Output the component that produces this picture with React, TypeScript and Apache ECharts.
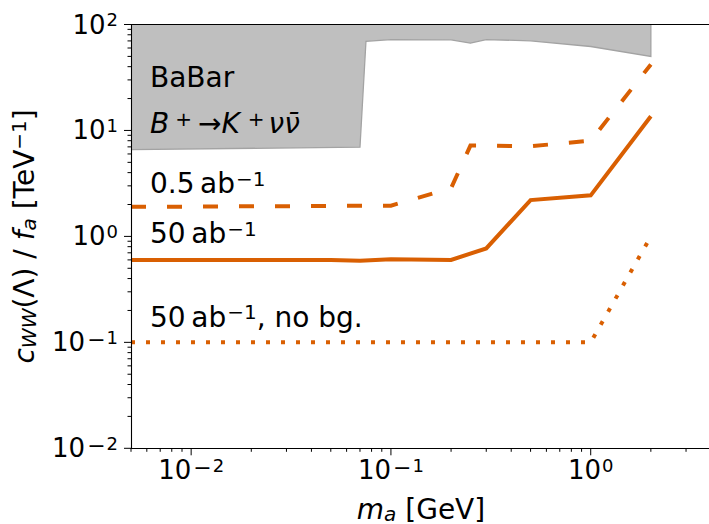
import React, { useEffect, useRef } from 'react';
import * as echarts from 'echarts';

const FONT = "'DejaVu Sans', sans-serif";
const ORANGE = '#d95f02';

const X_MIN = 0.005;
const X_MAX = 4;
const Y_MIN = 0.01;
const Y_MAX = 100;

// BaBar B+ -> K+ nu nubar excluded region (lower boundary)
const babarX = [0.005, 0.07, 0.075, 0.1, 0.2, 0.25, 0.3, 0.5, 1, 2];
const babarY = [6.6, 6.95, 69.5, 72, 71.7, 66.6, 72, 70.2, 62, 50];

// 0.5 ab^-1 (dashed)
const dashX = [0.005, 0.1, 0.2, 0.25, 0.3, 0.5, 1, 2];
const dashY = [1.9, 1.95, 2.85, 7.2, 7.2, 7.1, 8.0, 42];

// 50 ab^-1 (solid)
const solidX = [0.005, 0.05, 0.07, 0.1, 0.2, 0.3, 0.5, 1, 2];
const solidY = [0.6, 0.6, 0.59, 0.61, 0.6, 0.77, 2.2, 2.44, 13.6];

// 50 ab^-1, no background (dotted)
const dotX = [0.005, 1, 2];
const dotY = [0.1, 0.1, 1.0];

// tick values
const xMajorTicks = [0.01, 0.1, 1];
const xMinorTicks = [0.005, 0.006, 0.007, 0.008, 0.009, 0.02, 0.03, 0.04, 0.05, 0.06, 0.07, 0.08, 0.09, 0.2, 0.3, 0.4, 0.5, 0.6, 0.7, 0.8, 0.9, 2, 3];
const yMajorTicks = [0.01, 0.1, 1, 10, 100];
const yMinorTicks = [0.02, 0.03, 0.04, 0.05, 0.06, 0.07, 0.08, 0.09, 0.2, 0.3, 0.4, 0.5, 0.6, 0.7, 0.8, 0.9, 2, 3, 4, 5, 6, 7, 8, 9, 20, 30, 40, 50, 60, 70, 80, 90];

const fmtPow = (v: number) => {
  const e = Math.log10(v);
  const r = Math.round(e);
  if (Math.abs(e - r) > 1e-6) return '';
  return r < 0 ? `{b|10}{m|\u2212}{s|${-r}}` : `{b|10}{s|${r}}`;
};

const tickRich = {
  b: { fontFamily: FONT, fontSize: 26, lineHeight: 28, color: '#000' },
  m: { fontFamily: FONT, fontSize: 22, lineHeight: 15, verticalAlign: 'top', color: '#000', padding: [0, 0, 0, 2] },
  s: { fontFamily: FONT, fontSize: 18, lineHeight: 15, verticalAlign: 'top', color: '#000', padding: [0, 0, 0, 1] },
};

const nameRich = {
  i: { fontFamily: FONT, fontStyle: 'italic', fontSize: 28, lineHeight: 30, color: '#000' },
  n: { fontFamily: FONT, fontSize: 28, lineHeight: 30, color: '#000' },
  sub: { fontFamily: FONT, fontStyle: 'italic', fontSize: 20, lineHeight: 16, verticalAlign: 'bottom', color: '#000' },
  sup: { fontFamily: FONT, fontSize: 20, lineHeight: 17, verticalAlign: 'top', color: '#000' },
};

const labelRich = {
  b: { fontFamily: FONT, fontSize: 28, lineHeight: 30, color: '#000' },
  i: { fontFamily: FONT, fontStyle: 'italic', fontSize: 28, lineHeight: 30, color: '#000' },
  s: { fontFamily: FONT, fontSize: 20, lineHeight: 17, verticalAlign: 'top', color: '#000', padding: [0, 0, 0, 1] },
  s1: { fontFamily: FONT, fontSize: 20, lineHeight: 17, verticalAlign: 'top', color: '#000', padding: [0, 6, 0, 6] },
  s2: { fontFamily: FONT, fontSize: 20, lineHeight: 17, verticalAlign: 'top', color: '#000', padding: [0, 4, 0, 8] },
  a: { fontFamily: FONT, fontSize: 28, lineHeight: 30, color: '#000' },
};

function tickSeries(data: number[][], vertical: boolean) {
  return {
    type: 'custom',
    coordinateSystem: 'cartesian2d',
    clip: false,
    silent: true,
    z: 20,
    data,
    renderItem: (params: any, api: any) => {
      const p = api.coord([api.value(0), api.value(1)]);
      const len = api.value(2);
      return {
        type: 'line',
        shape: vertical
          ? { x1: p[0], y1: p[1], x2: p[0], y2: p[1] + len }
          : { x1: p[0] - len, y1: p[1], x2: p[0], y2: p[1] },
        style: { stroke: '#000', lineWidth: 1 },
      };
    },
  };
}

export default function App() {
  const ref = useRef<HTMLDivElement>(null);

  useEffect(() => {
    document.body.style.margin = '0';
    if (!ref.current) return;
    const chart = echarts.init(ref.current, null, { renderer: 'svg' });

    const xTickData = [
      ...xMajorTicks.map((v) => [v, Y_MIN, 7]),
      ...xMinorTicks.map((v) => [v, Y_MIN, 3.5]),
    ];
    const yTickData = [
      ...yMajorTicks.map((v) => [X_MIN, v, 7]),
      ...yMinorTicks.map((v) => [X_MIN, v, 3.5]),
    ];

    const axisLine = { show: true, lineStyle: { color: '#000', width: 1.1 } };

    chart.setOption({
      animation: false,
      backgroundColor: '#fff',
      grid: { left: 131, top: 24.5, width: 580, height: 423.8, outerBoundsMode: 'none', containLabel: false },
      xAxis: [
        {
          type: 'log',
          min: X_MIN,
          max: X_MAX,
          position: 'bottom',
          z: 10,
          axisLine,
          axisTick: { show: false },
          splitLine: { show: false },
          minorTick: { show: false },
          axisLabel: { formatter: fmtPow, rich: tickRich, margin: 8, showMinLabel: true, showMaxLabel: true },
          name: '{i|m}{sub|a}{n| [GeV]}',
          nameLocation: 'middle',
          nameGap: 46,
          nameTextStyle: { rich: nameRich },
        },
        {
          type: 'log',
          min: X_MIN,
          max: X_MAX,
          position: 'top',
          z: 10,
          axisLine,
          axisTick: { show: false },
          axisLabel: { show: false },
          splitLine: { show: false },
        },
      ],
      yAxis: [
        {
          type: 'log',
          min: Y_MIN,
          max: Y_MAX,
          position: 'left',
          z: 10,
          axisLine,
          axisTick: { show: false },
          splitLine: { show: false },
          minorTick: { show: false },
          axisLabel: { formatter: fmtPow, rich: tickRich, margin: 13 },
          name: '{i|c}{sub|WW}{n|(\u039b) / }{i|f}{sub|a}{n| [TeV}{sup|\u22121}{n|]}',
          nameLocation: 'middle',
          nameRotate: 90,
          nameGap: 92,
          nameTextStyle: { rich: nameRich },
        },
        {
          type: 'log',
          min: Y_MIN,
          max: Y_MAX,
          position: 'right',
          z: 10,
          axisLine,
          axisTick: { show: false },
          axisLabel: { show: false },
          splitLine: { show: false },
        },
      ],
      series: [
        {
          type: 'custom',
          name: 'BaBar',
          coordinateSystem: 'cartesian2d',
          clip: true,
          silent: true,
          z: 1,
          data: [[babarX[0], babarY[0]]],
          renderItem: (params: any, api: any) => {
            const lower = babarX.map((x, i) => api.coord([x, babarY[i]]));
            const edge = [...lower, api.coord([babarX[babarX.length - 1], Y_MAX])];
            const poly = [...edge, api.coord([babarX[0], Y_MAX])];
            return {
              type: 'group',
              children: [
                { type: 'polygon', shape: { points: poly }, style: { fill: '#bfbfbf' } },
                { type: 'polyline', shape: { points: edge }, style: { stroke: '#a3a3a3', lineWidth: 1.3, fill: null } },
              ],
            };
          },
        },
        {
          type: 'line',
          name: '0.5 ab-1',
          data: dashX.map((x, i) => [x, dashY[i]]),
          showSymbol: false,
          symbol: 'none',
          z: 3,
          lineStyle: { color: ORANGE, width: 4, type: [15, 21], cap: 'butt', join: 'miter' },
        },
        {
          type: 'line',
          name: '50 ab-1',
          data: solidX.map((x, i) => [x, solidY[i]]),
          showSymbol: false,
          symbol: 'none',
          z: 3,
          lineStyle: { color: ORANGE, width: 4, type: 'solid', cap: 'butt', join: 'miter' },
        },
        {
          type: 'line',
          name: '50 ab-1, no bg.',
          data: dotX.map((x, i) => [x, dotY[i]]),
          showSymbol: false,
          symbol: 'none',
          z: 3,
          lineStyle: { color: ORANGE, width: 4, type: [4, 11], cap: 'butt', join: 'miter' },
        },
        tickSeries(xTickData, true),
        tickSeries(yTickData, false),
      ],
      graphic: [
        {
          type: 'text', x: 150, y: 77, z: 100,
          style: { text: 'BaBar', fontFamily: FONT, fontSize: 28, fill: '#000', verticalAlign: 'middle', align: 'left' },
        },
        {
          type: 'text', x: 150, y: 123.5, z: 100,
          style: {
            text: '{i|B}{s1|+}{a|\u2192}{i|K}{s2|+}{i|\u03bd\u03bd\u0304}',
            rich: labelRich, verticalAlign: 'middle', align: 'left',
          },
        },
        {
          type: 'text', x: 150, y: 183.5, z: 100,
          style: { text: '{b|0.5\u2009ab}{s|\u22121}', rich: labelRich, verticalAlign: 'middle', align: 'left' },
        },
        {
          type: 'text', x: 150, y: 233.5, z: 100,
          style: { text: '{b|50\u2009ab}{s|\u22121}', rich: labelRich, verticalAlign: 'middle', align: 'left' },
        },
        {
          type: 'text', x: 150, y: 317, z: 100,
          style: { text: '{b|50\u2009ab}{s|\u22121}{b|, no bg.}', rich: labelRich, verticalAlign: 'middle', align: 'left' },
        },
      ],
    });

    return () => chart.dispose();
  }, []);

  return <div ref={ref} style={{ position: 'absolute', left: 0, top: 0, width: 709, height: 524 }} />;
}
